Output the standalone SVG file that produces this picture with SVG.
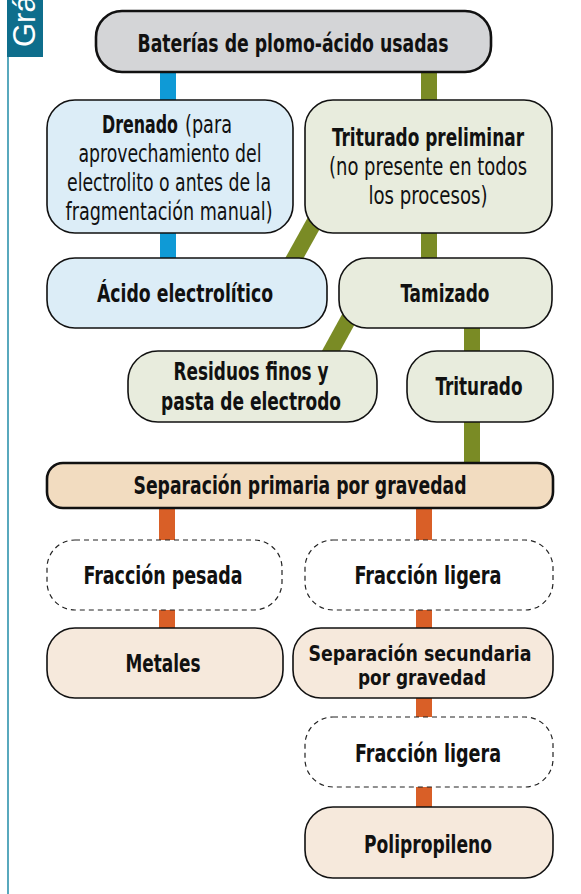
<svg xmlns="http://www.w3.org/2000/svg" width="581" height="894" viewBox="0 0 581 894">
<style>
text{font-family:"Liberation Sans Narrow","DejaVu Sans Condensed","Roboto Condensed","Liberation Sans",sans-serif;font-size:24px;fill:#111;text-anchor:middle}
.b{font-weight:bold}
.s{text-anchor:start}
.n{stroke:#111;stroke-width:1.6}
.thick{stroke-width:2.6}
.gray{fill:#d4d5d7}
.blue{fill:#dcedf7}
.green{fill:#e8ecdd}
.peach{fill:#f2dcc0}
.light{fill:#f6e9dc}
.dash{fill:#fff;stroke:#222;stroke-width:1.2;stroke-dasharray:5 4}
.cb{stroke:#0f9ad6;stroke-width:16;fill:none}
.cg{stroke:#7a8b25;stroke-width:16;fill:none}
.co{stroke:#d95f27;stroke-width:16;fill:none}
</style>
<rect width="581" height="894" fill="#fff"/>
<g id="label">
<line x1="8" y1="57" x2="8" y2="894" stroke="#2f93ad" stroke-width="1.6"/>
<rect x="7" y="0" width="36" height="57" fill="#0e6e8c"/>
<text transform="translate(35,47) rotate(-90)" style="font-family:'Liberation Sans','DejaVu Sans',sans-serif;font-size:31px;fill:#fff;text-anchor:start">Grá</text>
</g>
<g id="connectors">
<line class="cb" x1="168" y1="70" x2="168" y2="102"/>
<line class="cb" x1="168" y1="231" x2="168" y2="260"/>
<line class="cg" x1="429" y1="70" x2="429" y2="102"/>
<line class="cg" x1="429" y1="231" x2="429" y2="260"/>
<line class="cg" x1="325" y1="203" x2="285" y2="275"/>
<line class="cg" x1="359" y1="300" x2="326" y2="360"/>
<line class="cg" x1="472" y1="326" x2="472" y2="353"/>
<line class="cg" x1="472" y1="420" x2="472" y2="465"/>
<line class="co" x1="167" y1="506" x2="167" y2="542"/>
<line class="co" x1="424" y1="506" x2="424" y2="542"/>
<line class="co" x1="167" y1="608" x2="167" y2="630"/>
<line class="co" x1="424" y1="608" x2="424" y2="630"/>
<line class="co" x1="424" y1="696" x2="424" y2="719"/>
<line class="co" x1="424" y1="785" x2="424" y2="809"/>
</g>
<g id="n-baterias">
<rect class="n thick gray" x="96" y="11" width="395" height="61" rx="26"/>
<text class="b" x="293" y="52" textLength="311" lengthAdjust="spacingAndGlyphs">Baterías de plomo-ácido usadas</text>
</g>
<g id="n-drenado">
<rect class="n blue" x="47" y="100" width="246" height="133" rx="28"/>
<text class="b s" x="102" y="133" textLength="76" lengthAdjust="spacingAndGlyphs">Drenado</text>
<text class="s" x="185" y="133" textLength="47" lengthAdjust="spacingAndGlyphs">(para</text>
<text x="170" y="162" textLength="183" lengthAdjust="spacingAndGlyphs">aprovechamiento del</text>
<text x="169" y="191" textLength="204" lengthAdjust="spacingAndGlyphs">electrolito o antes de la</text>
<text x="169" y="220" textLength="207" lengthAdjust="spacingAndGlyphs">fragmentación manual)</text>
</g>
<g id="n-triturado-pre">
<rect class="n green" x="305" y="100" width="247" height="133" rx="28"/>
<text class="b" x="428" y="146" textLength="192" lengthAdjust="spacingAndGlyphs">Triturado preliminar</text>
<text x="428" y="175" textLength="198" lengthAdjust="spacingAndGlyphs">(no presente en todos</text>
<text x="428" y="204" textLength="119" lengthAdjust="spacingAndGlyphs">los procesos)</text>
</g>
<g id="n-acido">
<rect class="n blue" x="47" y="258" width="280" height="70" rx="28"/>
<text class="b" x="185" y="302" textLength="176" lengthAdjust="spacingAndGlyphs">Ácido electrolítico</text>
</g>
<g id="n-tamizado">
<rect class="n green" x="339" y="258" width="213" height="70" rx="28"/>
<text class="b" x="445" y="302" textLength="89" lengthAdjust="spacingAndGlyphs">Tamizado</text>
</g>
<g id="n-residuos">
<rect class="n green" x="128" y="351" width="249" height="71" rx="30"/>
<text class="b" x="251" y="380" textLength="155" lengthAdjust="spacingAndGlyphs">Residuos finos y</text>
<text class="b" x="251" y="410" textLength="180" lengthAdjust="spacingAndGlyphs">pasta de electrodo</text>
</g>
<g id="n-triturado">
<rect class="n green" x="407" y="351" width="146" height="71" rx="30"/>
<text class="b" x="479" y="395" textLength="87" lengthAdjust="spacingAndGlyphs">Triturado</text>
</g>
<g id="n-sep-primaria">
<rect class="n thick peach" x="47" y="463" width="506" height="45" rx="16"/>
<text class="b" x="300" y="494" textLength="333" lengthAdjust="spacingAndGlyphs">Separación primaria por gravedad</text>
</g>
<g id="n-pesada">
<rect class="dash" x="47" y="540" width="235" height="70" rx="28"/>
<text class="b" x="163" y="584" textLength="159" lengthAdjust="spacingAndGlyphs">Fracción pesada</text>
</g>
<g id="n-ligera1">
<rect class="dash" x="305" y="540" width="248" height="70" rx="28"/>
<text class="b" x="428" y="584" textLength="147" lengthAdjust="spacingAndGlyphs">Fracción ligera</text>
</g>
<g id="n-metales">
<rect class="n light" x="47" y="628" width="236" height="70" rx="28"/>
<text class="b" x="163" y="672" textLength="75" lengthAdjust="spacingAndGlyphs">Metales</text>
</g>
<g id="n-sep-secundaria">
<rect class="n light" x="293" y="628" width="260" height="70" rx="28"/>
<text class="b" x="420" y="661" style="font-size:22px" textLength="223" lengthAdjust="spacingAndGlyphs">Separación secundaria</text>
<text class="b" x="422" y="685" style="font-size:22px" textLength="128" lengthAdjust="spacingAndGlyphs">por gravedad</text>
</g>
<g id="n-ligera2">
<rect class="dash" x="305" y="717" width="248" height="70" rx="28"/>
<text class="b" x="428" y="762" textLength="146" lengthAdjust="spacingAndGlyphs">Fracción ligera</text>
</g>
<g id="n-polipropileno">
<rect class="n light" x="305" y="807" width="248" height="71" rx="28"/>
<text class="b" x="428" y="853" textLength="128" lengthAdjust="spacingAndGlyphs">Polipropileno</text>
</g>
</svg>
